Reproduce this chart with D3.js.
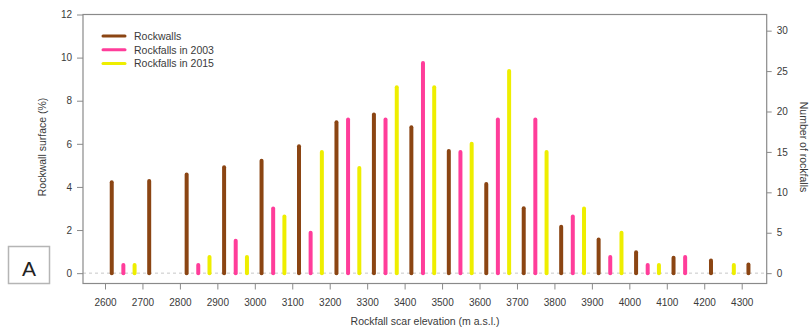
<!DOCTYPE html>
<html>
<head>
<meta charset="utf-8">
<script src="https://cdn.jsdelivr.net/npm/d3@7/dist/d3.min.js"></script>
<style>
  html, body { margin: 0; padding: 0; background: #fff; }
  svg { display: block; font-family: "Liberation Sans", Arial, Helvetica, sans-serif; }
</style>
</head>
<body>
<svg id="chart" width="811" height="328"></svg>
<script>
// Elevation bins (m a.s.l.)
const elevations = [2600, 2700, 2800, 2900, 3000, 3100, 3200, 3300, 3400, 3500, 3600, 3700, 3800, 3900, 4000, 4100, 4200, 4300];
// Share of rockwall surface per bin (%)
const rockwallSurface = [4.22, 4.28, 4.58, 4.91, 5.21, 5.89, 7.0, 7.36, 6.77, 5.67, 4.14, 3.01, 2.15, 1.56, 0.97, 0.71, 0.59, 0.40];
// Number of rockfalls per bin
const rockfalls2003 = [1, 0, 1, 4, 8, 5, 19, 19, 26, 15, 19, 19, 7, 2, 1, 2, 0, 0];
const rockfalls2015 = [1, 0, 2, 2, 7, 15, 13, 23, 23, 16, 25, 15, 8, 5, 1, 0, 1, 0];
// Axis ticks
const leftTicks = [0, 2, 4, 6, 8, 10, 12];
const rightTicks = [0, 5, 10, 15, 20, 25, 30];
const seriesNames = ["Rockwalls", "Rockfalls in 2003", "Rockfalls in 2015"];
const seriesColors = ["#8b4513", "#ff3d9a", "#eeee00"];

const svg = d3.select("#chart");

const box = { left: 83, right: 766.7, top: 14.5, bottom: 283.5 };

const x = d3.scaleLinear().domain([2600, 4300]).range([105, 741.7]);
const yLeft = d3.scaleLinear().domain([-0.48, 12]).range([box.bottom, box.top]);
const yRight = d3.scaleLinear().domain([-0.48 * 32 / 12, 32]).range([box.bottom, box.top]);

const axisColor = "#8a8a8a";
const textColor = "#3a3a3a";

// dashed zero line
svg.append("line")
  .attr("x1", box.left).attr("x2", box.right)
  .attr("y1", yLeft(0)).attr("y2", yLeft(0))
  .attr("stroke", "#c8c8c8").attr("stroke-width", 1)
  .attr("stroke-dasharray", "3,3");

// bars drawn as thick round-capped vertical lines
const series = [
  { values: rockwallSurface, scale: yLeft, offset: 18, color: seriesColors[0] },
  { values: rockfalls2003, scale: yRight, offset: 49, color: seriesColors[1] },
  { values: rockfalls2015, scale: yRight, offset: 79, color: seriesColors[2] }
];

series.forEach(s => {
  const pts = elevations.map((e, i) => ({ e, v: s.values[i] })).filter(d => d.v > 0);
  svg.append("g").selectAll("line")
    .data(pts)
    .join("line")
    .attr("x1", d => x(d.e + s.offset)).attr("x2", d => x(d.e + s.offset))
    .attr("y1", s.scale(0)).attr("y2", d => s.scale(d.v))
    .attr("stroke", s.color)
    .attr("stroke-width", 4)
    .attr("stroke-linecap", "round");
});

// frame
svg.append("rect")
  .attr("x", box.left).attr("y", box.top)
  .attr("width", box.right - box.left).attr("height", box.bottom - box.top)
  .attr("fill", "none").attr("stroke", axisColor).attr("stroke-width", 1.2);

function styleAxis(g) {
  g.select(".domain").remove();
  g.selectAll(".tick line").attr("stroke", axisColor).attr("stroke-width", 1);
  g.selectAll(".tick text").attr("fill", textColor).style("font-size", "10px")
    .style("font-family", "'Liberation Sans', Arial, sans-serif");
}

svg.append("g")
  .attr("transform", `translate(${box.left},0)`)
  .call(d3.axisLeft(yLeft).tickValues(leftTicks).tickFormat(d3.format("d")).tickSize(6).tickPadding(5))
  .call(styleAxis);

svg.append("g")
  .attr("transform", `translate(${box.right},0)`)
  .call(d3.axisRight(yRight).tickValues(rightTicks).tickFormat(d3.format("d")).tickSize(5).tickPadding(5))
  .call(styleAxis);

svg.append("g")
  .attr("transform", `translate(0,${box.bottom})`)
  .call(d3.axisBottom(x).tickValues(elevations).tickFormat(d3.format("d")).tickSize(6).tickPadding(9))
  .call(styleAxis);

// axis titles
svg.append("text")
  .attr("transform", `translate(46,147) rotate(-90)`)
  .attr("text-anchor", "middle")
  .attr("fill", textColor).style("font-size", "10.5px")
  .text("Rockwall surface (%)");

svg.append("text")
  .attr("transform", `translate(800,147) rotate(90)`)
  .attr("text-anchor", "middle")
  .attr("fill", textColor).style("font-size", "10.5px")
  .text("Number of rockfalls");

svg.append("text")
  .attr("x", 425).attr("y", 325)
  .attr("text-anchor", "middle")
  .attr("fill", textColor).style("font-size", "10.5px")
  .text("Rockfall scar elevation (m a.s.l.)");

// legend
const legend = svg.append("g");
seriesNames.forEach((name, i) => {
  const yy = 36 + i * 13.7;
  legend.append("line")
    .attr("x1", 103).attr("x2", 125).attr("y1", yy).attr("y2", yy)
    .attr("stroke", seriesColors[i]).attr("stroke-width", 3).attr("stroke-linecap", "round");
  legend.append("text")
    .attr("x", 134).attr("y", yy + 3.8)
    .attr("fill", textColor).style("font-size", "10.5px")
    .text(name);
});

// panel letter
svg.append("rect")
  .attr("x", 8.5).attr("y", 246.5).attr("width", 41).attr("height", 37)
  .attr("fill", "#fff").attr("stroke", "#b5b5b5").attr("stroke-width", 1.5);
svg.append("text")
  .attr("x", 29).attr("y", 275.5)
  .attr("text-anchor", "middle")
  .attr("fill", "#222").style("font-size", "21px")
  .text("A");
</script>
</body>
</html>
